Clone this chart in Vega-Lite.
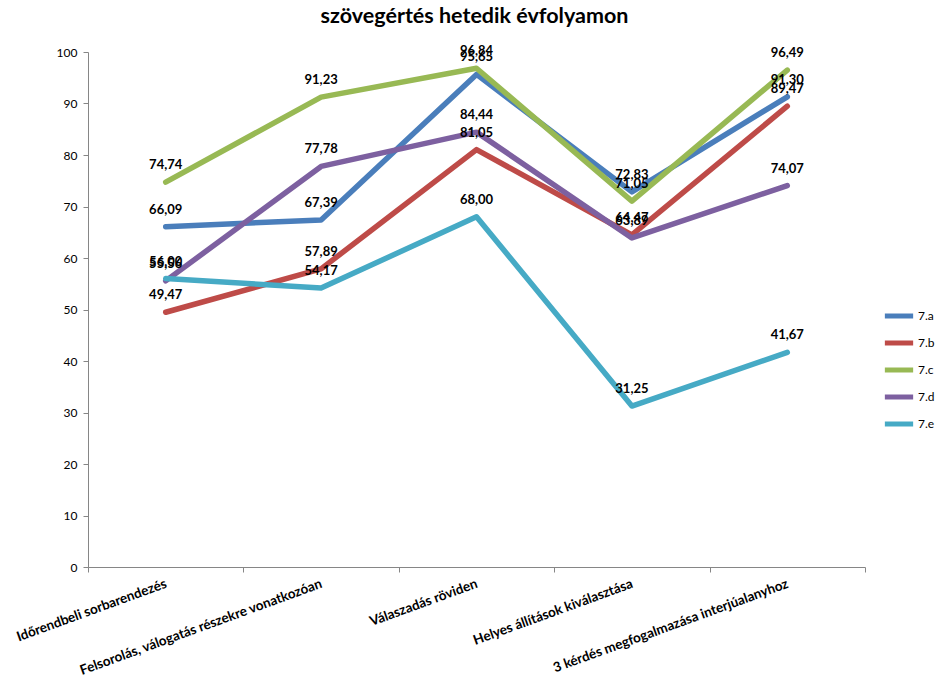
{
  "$schema": "https://vega.github.io/schema/vega-lite/v6.json",
  "width": 777,
  "height": 515,
  "autosize": "none",
  "padding": {"left": 88, "top": 52, "right": 71, "bottom": 113},
  "background": "white",
  "title": {"text": "szövegértés hetedik évfolyamon", "fontSize": 21.5, "font": "Lato", "fontWeight": "bold", "color": "#000000", "anchor": "middle", "dx": -2, "offset": 18},
  "config": {
    "view": {"stroke": null},
    "locale": {"number": {"decimal": ",", "thousands": " ", "grouping": [3], "currency": ["", ""]}},
    "font": "Lato"
  },
  "data": {"values": [
    {"cat": "Időrendbeli sorbarendezés", "group": "7.a", "value": 66.09},
    {"cat": "Felsorolás, válogatás részekre vonatkozóan", "group": "7.a", "value": 67.39},
    {"cat": "Válaszadás röviden", "group": "7.a", "value": 95.65},
    {"cat": "Helyes állítások kiválasztása", "group": "7.a", "value": 72.83},
    {"cat": "3 kérdés megfogalmazása interjúalanyhoz", "group": "7.a", "value": 91.30},
    {"cat": "Időrendbeli sorbarendezés", "group": "7.b", "value": 49.47},
    {"cat": "Felsorolás, válogatás részekre vonatkozóan", "group": "7.b", "value": 57.89},
    {"cat": "Válaszadás röviden", "group": "7.b", "value": 81.05},
    {"cat": "Helyes állítások kiválasztása", "group": "7.b", "value": 64.47},
    {"cat": "3 kérdés megfogalmazása interjúalanyhoz", "group": "7.b", "value": 89.47},
    {"cat": "Időrendbeli sorbarendezés", "group": "7.c", "value": 74.74},
    {"cat": "Felsorolás, válogatás részekre vonatkozóan", "group": "7.c", "value": 91.23},
    {"cat": "Válaszadás röviden", "group": "7.c", "value": 96.84},
    {"cat": "Helyes állítások kiválasztása", "group": "7.c", "value": 71.05},
    {"cat": "3 kérdés megfogalmazása interjúalanyhoz", "group": "7.c", "value": 96.49},
    {"cat": "Időrendbeli sorbarendezés", "group": "7.d", "value": 55.56},
    {"cat": "Felsorolás, válogatás részekre vonatkozóan", "group": "7.d", "value": 77.78},
    {"cat": "Válaszadás röviden", "group": "7.d", "value": 84.44},
    {"cat": "Helyes állítások kiválasztása", "group": "7.d", "value": 63.89},
    {"cat": "3 kérdés megfogalmazása interjúalanyhoz", "group": "7.d", "value": 74.07},
    {"cat": "Időrendbeli sorbarendezés", "group": "7.e", "value": 56.00},
    {"cat": "Felsorolás, válogatás részekre vonatkozóan", "group": "7.e", "value": 54.17},
    {"cat": "Válaszadás röviden", "group": "7.e", "value": 68.00},
    {"cat": "Helyes állítások kiválasztása", "group": "7.e", "value": 31.25},
    {"cat": "3 kérdés megfogalmazása interjúalanyhoz", "group": "7.e", "value": 41.67}
  ]},
  "encoding": {
    "x": {
      "field": "cat", "type": "nominal", "sort": null,
      "scale": {"type": "band", "paddingInner": 0, "paddingOuter": 0},
      "axis": {
        "title": null, "labelAngle": -20, "labelAlign": "right", "labelBaseline": "middle",
        "labelPadding": 11, "labelFont": "Lato", "labelFontSize": 13.5, "labelFontWeight": "bold",
        "labelColor": "#000000", "tickBand": "extent", "tickSize": 5, "tickColor": "#868686",
        "domainColor": "#868686", "labelLimit": 400, "labelOverlap": false
      }
    },
    "y": {
      "field": "value", "type": "quantitative",
      "scale": {"domain": [0, 100]},
      "axis": {
        "title": null, "values": [0,10,20,30,40,50,60,70,80,90,100], "grid": false,
        "tickSize": 5, "tickColor": "#868686", "domainColor": "#868686",
        "labelFont": "Lato", "labelFontSize": 12, "labelColor": "#000000", "labelPadding": 6
      }
    }
  },
  "layer": [
    {
      "mark": {"type": "line", "strokeWidth": 5.5, "strokeCap": "round", "strokeJoin": "round"},
      "encoding": {
        "color": {
          "field": "group", "type": "nominal",
          "scale": {"domain": ["7.a", "7.b", "7.c", "7.d", "7.e"], "range": ["#4A7EBB", "#BE4B48", "#98B954", "#7D60A0", "#46AAC5"]},
          "legend": {
            "title": null, "orient": "none", "legendX": 794, "legendY": 247,
            "symbolType": "stroke", "symbolSize": 800, "symbolStrokeWidth": 5,
            "labelFont": "Lato", "labelFontSize": 12, "labelColor": "#000000",
            "rowPadding": -2, "labelOffset": 2
          }
        }
      }
    },
    {
      "mark": {"type": "text", "dy": -17, "font": "Lato", "fontSize": 13, "fontWeight": "bold", "color": "#000000"},
      "encoding": {
        "text": {"field": "value", "type": "quantitative", "format": ".2f"}
      }
    }
  ]
}
